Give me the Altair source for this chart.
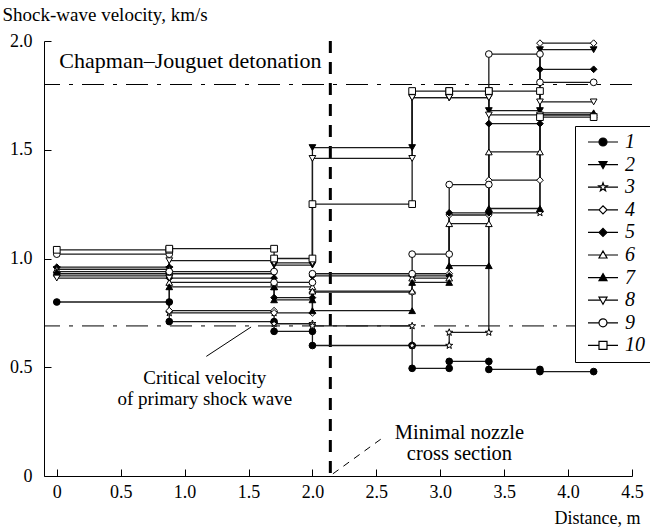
import altair as alt
import pandas as pd

# ---------------- data ----------------
stations = [0, 0.88, 1.7, 2.0, 2.78, 3.07, 3.38, 3.78, 4.2]
series_names = ["1", "2", "3", "4", "5", "6", "7", "8", "9", "10"]

v1 = [0.80, 0.71, 0.665, 0.60, 0.495, 0.527, 0.49, 0.48]
v2 = [0.95, 0.93, 0.97, 1.51, 1.74, 1.74, 1.68, 1.96]
v3 = [0.93, 0.75, 0.70, 0.69, 0.60, 0.66, 1.21, 1.66]
v4 = [0.92, 0.76, 0.75, 0.845, 0.93, 1.20, 1.36, 1.99]
v5 = [0.96, 0.91, 0.82, 0.92, 0.92, 1.21, 1.62, 1.87]
v6 = [0.95, 0.89, 0.87, 0.85, 0.91, 1.16, 1.49, 1.66]
v7 = [0.94, 0.87, 0.81, 0.76, 0.89, 0.967, 1.23, 1.67]
v8 = [0.91, 0.99, 0.98, 1.46, 1.74, 1.74, 1.66, 1.72]
v9 = [1.02, 0.94, 0.89, 0.93, 1.02, 1.34, 1.94, 1.81]
v10 = [1.04, 1.045, 1.00, 1.25, 1.77, 1.77, 1.77, 1.65]
all_values = [v1, v2, v3, v4, v5, v6, v7, v8, v9, v10]

ref_levels = [1.8, 0.69]
nozzle_x = [2.14]

x_ticks = [0, 0.5, 1.0, 1.5, 2.0, 2.5, 3.0, 3.5, 4.0, 4.5]
y_ticks = [0, 0.5, 1.0, 1.5, 2.0]

cj_text = ["Chapman\u2013Jouguet detonation"]
cj_x = [0.02]
cj_y = [1.908]

crit_text = ["Critical velocity", "of primary shock wave"]
crit_x = [1.158, 1.158]
crit_y = [0.452, 0.352]
crit_line = {"x": [1.17], "y": [0.55], "x2": [1.52], "y2": [0.685]}

noz_text = ["Minimal nozzle", "cross section"]
noz_x = [3.15, 3.15]
noz_y = [0.198, 0.100]
noz_line = {"x": [2.16], "y": [0.01], "x2": [2.56], "y2": [0.18]}

# ---------------- tables ----------------
rows = []
for name, vals in zip(series_names, all_values):
    for i, v in enumerate(vals):
        rows.append({"series": name, "x": stations[i], "v": v, "ord": 2 * i})
        rows.append({"series": name, "x": stations[i + 1], "v": v, "ord": 2 * i + 1})
df = pd.DataFrame(rows)

STAR = "M0,-1.1L0.26,-0.36L1.05,-0.34L0.42,0.13L0.65,0.89L0,0.44L-0.65,0.89L-0.42,0.13L-1.05,-0.34L-0.26,-0.36Z"
shape_kinds = ["circle", "triangle-down", "star", "diamond", "diamond",
               "triangle-up", "triangle-up", "triangle-down", "circle", "square"]
fill_range = ["black", "black", "white", "white", "black",
              "white", "black", "white", "white", "white"]
stroke_range = ["black"] * 10
shape_range = [STAR if k == "star" else k for k in shape_kinds]


def legend_path(kind, c=3.0):
    if kind == "circle":
        m, hw = f"M{c-1},0A1,1 0 1,1 {c+1},0A1,1 0 1,1 {c-1},0Z", 1.0
    elif kind == "square":
        m, hw = f"M{c-1},-1H{c+1}V1H{c-1}Z", 1.0
    elif kind == "diamond":
        m, hw = f"M{c-1},0L{c},-1L{c+1},0L{c},1Z", 1.0
    elif kind == "triangle-up":
        m, hw = f"M{c},-1L{c+1},0.75L{c-1},0.75Z", 0.57
    elif kind == "triangle-down":
        m, hw = f"M{c},1L{c+1},-0.75L{c-1},-0.75Z", 0.57
    else:
        pts = [(0, -1.1), (0.26, -0.36), (1.05, -0.34), (0.42, 0.13), (0.65, 0.89),
               (0, 0.44), (-0.65, 0.89), (-0.42, 0.13), (-1.05, -0.34), (-0.26, -0.36)]
        m = "M" + "L".join(f"{c+px:.3f},{py}" for px, py in pts) + "Z"
        hw = 0.59
    line = f"M-0.75,0H{c-hw:.3f}M{c+hw:.3f},0H6.75"
    return line + m


legend_paths = [legend_path(k) for k in shape_kinds]

SERIF = "Liberation Serif, Tinos, Times New Roman, DejaVu Serif, serif"

x_scale = alt.Scale(domain=[-0.1, 4.5], nice=False, zero=False)
y_scale = alt.Scale(domain=[0, 2.0], nice=False)

label_expr = "datum.value == 0 ? '0' : format(datum.value, '.1f')"

x_axis = alt.Axis(values=x_ticks, labelExpr=label_expr, title="Distance, m",
                  titleX=596, titleY=47, titleAlign="right", titleBaseline="alphabetic",
                  titleFont=SERIF, titleFontSize=18, titleFontWeight="normal",
                  labelFont=SERIF, labelFontSize=18, labelFlush=False, labelOverlap=False,
                  labelPadding=14, tickSize=alt.ExprRef("-7"), grid=False,
                  domainColor="black", tickColor="black", labelColor="black", titleColor="black")
y_axis = alt.Axis(values=y_ticks, labelExpr=label_expr, title="Shock-wave velocity, km/s",
                  titleAngle=0, titleX=-42, titleY=-21, titleAlign="left",
                  titleBaseline="alphabetic",
                  titleFont=SERIF, titleFontSize=19, titleFontWeight="normal",
                  labelFont=SERIF, labelFontSize=18, labelFlush=False, labelOverlap=False,
                  labelPadding=19, tickSize=alt.ExprRef("-7"), grid=False,
                  domainColor="black", tickColor="black", labelColor="black", titleColor="black")

base = alt.Chart(df)

lines = base.mark_line(color="#1a1a1a", strokeWidth=1.3).encode(
    x=alt.X("x:Q", scale=x_scale, axis=x_axis),
    y=alt.Y("v:Q", scale=y_scale, axis=y_axis),
    detail="series:N",
    order="ord:Q",
)

points = base.mark_point(filled=False, opacity=1, stroke="black", strokeWidth=1, size=45).encode(
    x=alt.X("x:Q", scale=x_scale),
    y=alt.Y("v:Q", scale=y_scale),
    shape=alt.Shape("series:N", scale=alt.Scale(domain=series_names, range=shape_range), legend=None),
    fill=alt.Fill("series:N", scale=alt.Scale(domain=series_names, range=fill_range), legend=None),
)

leg = alt.Legend(orient="none", legendX=531, legendY=85, title=None,
                 strokeColor="black", fillColor="white", padding=6,
                 labelFont=SERIF, labelFontStyle="italic", labelFontSize=20,
                 labelColor="black", labelOffset=24, symbolSize=64,
                 symbolStrokeWidth=1.2, symbolStrokeColor="black", rowPadding=2.6)

legend_layer = base.transform_filter("datum.x > 100").mark_point(
    filled=False, opacity=1, strokeWidth=1.2, size=64).encode(
    x=alt.X("x:Q", scale=x_scale),
    y=alt.Y("v:Q", scale=y_scale),
    shape=alt.Shape("series:N", scale=alt.Scale(domain=series_names, range=legend_paths), legend=leg),
    fill=alt.Fill("series:N", scale=alt.Scale(domain=series_names, range=fill_range), legend=leg),
    stroke=alt.Stroke("series:N", scale=alt.Scale(domain=series_names, range=stroke_range), legend=leg),
)

ref_df = pd.DataFrame({"level": ref_levels})
ref_rules = alt.Chart(ref_df).mark_rule(color="black", strokeWidth=1, strokeDash=[22, 9, 4, 9]).encode(
    y=alt.Y("level:Q", scale=y_scale)
)

noz_df = pd.DataFrame({"xpos": nozzle_x})
noz_rule = alt.Chart(noz_df).mark_rule(color="black", strokeWidth=3, strokeDash=[12, 9]).encode(
    x=alt.X("xpos:Q", scale=x_scale)
)

cj = alt.Chart(pd.DataFrame({"t": cj_text, "x": cj_x, "y": cj_y})).mark_text(
    font=SERIF, fontSize=22, align="left", baseline="middle", color="black").encode(
    x=alt.X("x:Q", scale=x_scale), y=alt.Y("y:Q", scale=y_scale), text="t:N")

crit = alt.Chart(pd.DataFrame({"t": crit_text, "x": crit_x, "y": crit_y})).mark_text(
    font=SERIF, fontSize=19, align="center", baseline="middle", color="black").encode(
    x=alt.X("x:Q", scale=x_scale), y=alt.Y("y:Q", scale=y_scale), text="t:N")

noz = alt.Chart(pd.DataFrame({"t": noz_text, "x": noz_x, "y": noz_y})).mark_text(
    font=SERIF, fontSize=20.5, align="center", baseline="middle", color="black").encode(
    x=alt.X("x:Q", scale=x_scale), y=alt.Y("y:Q", scale=y_scale), text="t:N")

crit_lead = alt.Chart(pd.DataFrame(crit_line)).mark_rule(color="black", strokeWidth=1).encode(
    x=alt.X("x:Q", scale=x_scale), y=alt.Y("y:Q", scale=y_scale), x2="x2:Q", y2="y2:Q")

noz_lead = alt.Chart(pd.DataFrame(noz_line)).mark_rule(color="black", strokeWidth=1, strokeDash=[7, 6]).encode(
    x=alt.X("x:Q", scale=x_scale), y=alt.Y("y:Q", scale=y_scale), x2="x2:Q", y2="y2:Q")

chart = alt.layer(
    ref_rules, noz_rule, lines, points, legend_layer, cj, crit, noz, crit_lead, noz_lead
).resolve_scale(
    shape="independent", fill="independent", stroke="independent"
).properties(
    width=588, height=435,
    autosize=alt.AutoSizeParams(type="none"),
    padding={"left": 44, "top": 41, "right": 18, "bottom": 53},
    background="white",
).configure_view(stroke=None)

chart.save("out.html", embed_options={"renderer": "svg", "actions": False})
